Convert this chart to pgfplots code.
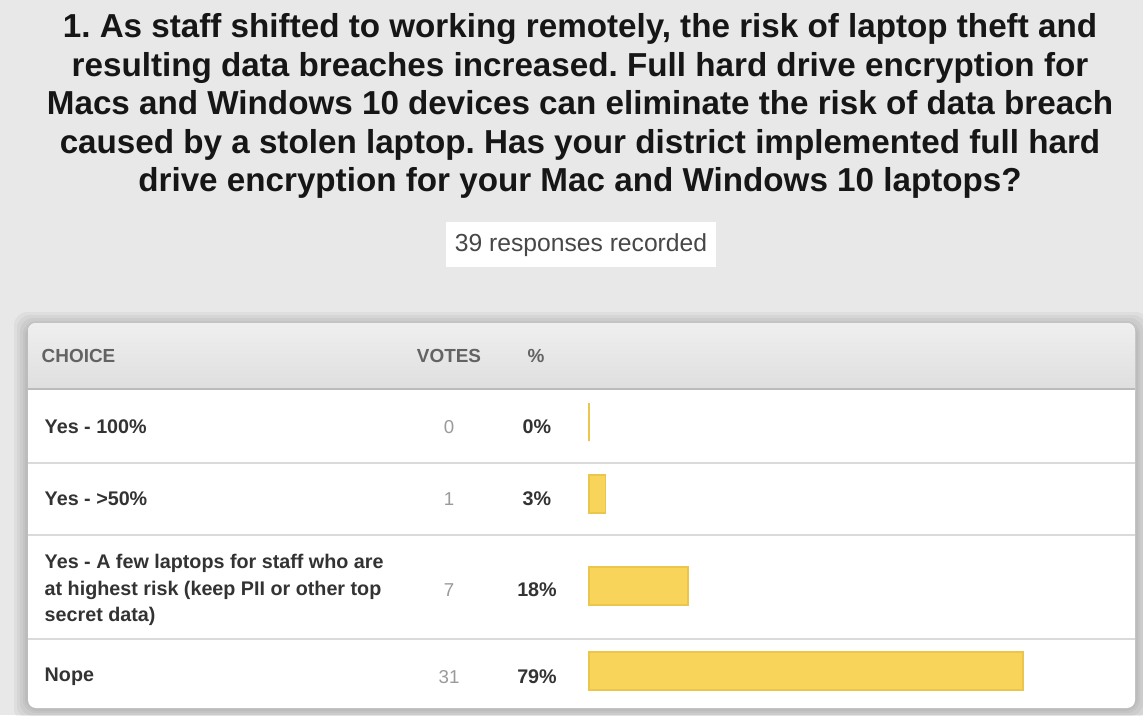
\documentclass[border=0pt]{standalone}
\usepackage{fontspec}
\setmainfont{Liberation Sans}
\usepackage{pgfplots}
\pgfplotsset{compat=1.18}
\frenchspacing

\definecolor{bg}{HTML}{E8E8E8}
\definecolor{barfill}{HTML}{F8D45B}
\definecolor{barline}{HTML}{ECC54C}
\definecolor{sep}{HTML}{DADADA}
\definecolor{hdrtop}{HTML}{EFEFEF}
\definecolor{hdrbot}{HTML}{DCDCDC}
\definecolor{titlecol}{HTML}{161616}
\definecolor{rowtext}{HTML}{333333}
\definecolor{hdrtext}{HTML}{636363}
\definecolor{votecol}{HTML}{9A9A9A}

\begin{document}
% 1 px of the reference = 0.75pt
\begin{tikzpicture}
\begin{scope}[x=0.75pt,y=-0.75pt]
  \useasboundingbox (0,0) rectangle (1143,715);
  \fill[bg] (0,0) rectangle (1143,715);
  % soft shadow round the panel
  \foreach \d in {14,11,8,5,3}{
    \fill[black,opacity=0.04,rounded corners=10pt]
      (28-\d,323-\d+3) rectangle (1135+\d,708+\d);
  }
  % panel
  \fill[white,rounded corners=6pt] (28,323) rectangle (1135,708);
  \shade[top color=hdrtop,bottom color=hdrbot,rounded corners=6pt]
    (28,323) rectangle (1135,400);
  \fill[white] (28,389) rectangle (1135,410);
  \draw[hdrbot!85!black,line width=1.5pt] (28,388.5) -- (1135,388.5);
  \foreach \y in {463,535,639}{
    \draw[sep,line width=1.5pt] (28,\y) -- (1135,\y);
  }
  % "39 responses recorded" box
  \fill[white] (446,222) rectangle (716,267);
\end{scope}

\begin{axis}[
    at={(0pt,0pt)}, anchor=north west,
    scale only axis,
    width=857.25pt, height=536.25pt,
    xmin=-107.21, xmax=100.84,
    ymin=0, ymax=715,
    y dir=reverse,
    hide axis,
    xbar,
    bar width=28.5pt,
    clip=false,
]
\addplot[fill=barfill, draw=barline, line width=1.1pt] coordinates {
    (0,422) (3,494) (18,586) (79,671)
};
\end{axis}

\begin{scope}[x=0.75pt,y=-0.75pt]
  \node[align=center,text=titlecol,font=\fontsize{24.9pt}{28.9pt}\selectfont\bfseries]
    at (580,106) {1. As staff shifted to working remotely, the risk of laptop theft and\\
    resulting data breaches increased. Full hard drive encryption for\\
    Macs and Windows 10 devices can eliminate the risk of data breach\\
    caused by a stolen laptop. Has your district implemented full hard\\
    drive encryption for your Mac and Windows 10 laptops?};
  \node[text=black!72,font=\fontsize{18.5pt}{22pt}\selectfont] at (581,245) {39 responses recorded};

  % header
  \begin{scope}[font=\fontsize{14.2pt}{17pt}\selectfont\bfseries,text=hdrtext]
    \node[anchor=west] at (37,356) {CHOICE};
    \node at (449,356) {VOTES};
    \node at (536,356) {\%};
  \end{scope}

  % rows
  \begin{scope}[font=\fontsize{14.8pt}{20pt}\selectfont\bfseries,text=rowtext]
    \node[anchor=west] at (40,427) {Yes - 100\%};
    \node[anchor=west] at (40,499) {Yes - >50\%};
    \node[anchor=west,align=left] at (40,590) {Yes - A few laptops for staff who are\\at highest risk (keep PII or other top\\secret data)};
    \node[anchor=west] at (40,677) {Nope};
    \node at (537,427) {0\%};
    \node at (537,499) {3\%};
    \node at (537,590) {18\%};
    \node at (537,677) {79\%};
  \end{scope}
  \begin{scope}[font=\fontsize{14pt}{17pt}\selectfont,text=votecol]
    \node at (449,427) {0};
    \node at (449,499) {1};
    \node at (449,590) {7};
    \node at (449,677) {31};
  \end{scope}
\end{scope}
\end{tikzpicture}
\end{document}
